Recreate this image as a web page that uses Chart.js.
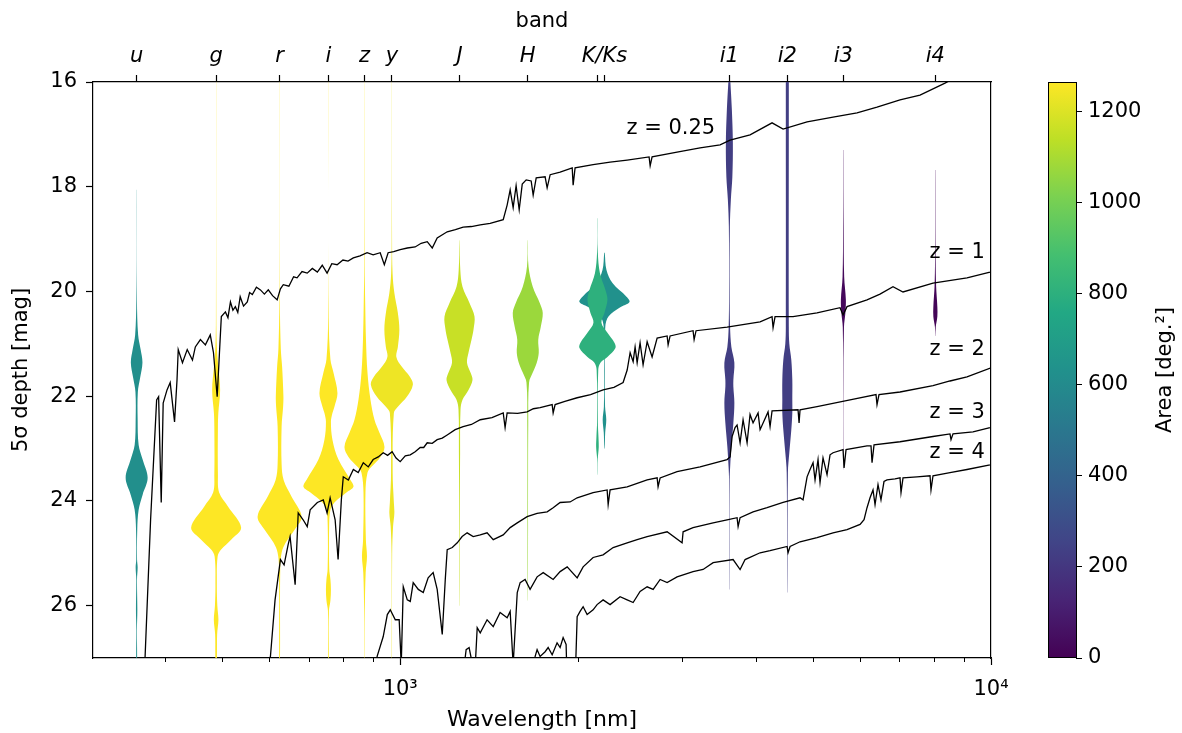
<!DOCTYPE html>
<html>
<head>
<meta charset="utf-8">
<script src="https://cdn.jsdelivr.net/npm/chart.js@4.4.0/dist/chart.umd.min.js"></script>
<style>
  html, body { margin: 0; padding: 0; background: #fff; }
  #wrap { width: 1182px; height: 733px; position: relative; }
</style>
</head>
<body>
<div id="wrap"><canvas id="depth"></canvas></div>
<script>
// ---- bands (top axis), violin colour = survey area ----
const bandNames = ['u', 'g', 'r', 'i', 'z', 'y', 'J', 'H', 'K', 'Ks', 'i1', 'i2', 'i3', 'i4'];
const bandTickLabels = ['u', 'g', 'r', 'i', 'z', 'y', 'J', 'H', '', 'K/Ks', 'i1', 'i2', 'i3', 'i4'];
const bandWave = [358, 488, 625, 756, 870, 968, 1260, 1644, 2157, 2217, 3607, 4521, 5625, 8050];
const bandArea = [620, 1264, 1264, 1264, 1264, 1235, 1159, 1073, 803, 632, 228, 228, 25, 13];

// violin profiles: [depth mag, density width]
const uProfile = [[18.06,0.08],[20.16,0.3],[20.83,1.5],[21.11,4],[21.36,5.8],[21.65,3.5],[21.92,1.2],[22.45,1.0],[22.93,2],[23.21,6],[23.56,11],[23.88,6],[24.17,2],[24.55,0.6],[25.12,0.4],[25.27,1.0],[25.5,0.35],[26.08,0.7],[26.46,0.3],[27.1,0.4]];
const gProfile = [[16,0.08],[20.5,0.2],[21.1,0.8],[21.44,2.2],[21.88,4],[22.32,2.2],[22.58,1.8],[23.5,1.8],[23.84,3],[24.11,12],[24.51,25],[24.74,15],[24.93,5],[25.06,1.5],[25.6,0.7],[26.0,1.2],[26.27,2.3],[26.55,1.0],[27.1,0.6]];
const rProfile = [[16,0.08],[20.2,0.25],[21.1,1.2],[21.44,2.5],[22.01,3.8],[22.2,3.5],[22.58,2],[23.3,2],[23.6,4],[23.92,12],[24.3,22],[24.55,15],[24.8,6],[24.99,2],[25.3,0.6],[27.1,0.35]];
const iProfile = [[16,0.08],[20.5,0.3],[21.3,2],[21.55,5],[21.94,9],[22.2,6],[22.32,4],[22.49,2.5],[22.83,4],[23.21,10],[23.6,22],[23.73,25],[23.84,18],[24.03,6],[24.17,2],[24.5,0.7],[25.3,0.8],[25.5,2],[25.69,2.5],[25.9,2],[26.1,0.5],[27.1,0.3]];
const zProfile = [[16,0.08],[19.5,0.25],[20.29,0.8],[20.92,1.5],[21.55,3],[22.07,6],[22.45,10],[22.7,15],[22.97,20],[23.16,16],[23.35,7],[23.46,3],[23.84,1.0],[24.74,1.4],[25.06,2.5],[25.37,1.2],[26.08,0.35],[27.1,0.12]];
const yProfile = [[16,0.08],[19.0,0.2],[19.65,0.7],[20.03,2.5],[20.41,6],[20.73,7.5],[21.06,6],[21.25,4.5],[21.44,10],[21.63,18],[21.78,21],[22.01,15],[22.2,6],[22.32,2],[23.46,0.8],[24.03,2],[24.23,2.5],[24.49,1.2],[25.0,0.3],[27.1,0.12]];
const JProfile = [[19.02,0.12],[19.59,0.8],[19.91,3],[20.22,10],[20.48,15],[20.73,14],[20.92,12],[21.17,9],[21.36,7.5],[21.55,11],[21.69,13],[21.88,9],[22.07,3],[22.26,1.0],[23.08,0.6],[24.5,0.3],[26.0,0.12]];
const HProfile = [[19.02,0.12],[19.53,0.8],[19.91,5],[20.22,12],[20.41,15],[20.68,13],[20.92,10.5],[21.17,11],[21.36,9],[21.55,5],[21.74,1.3],[22.5,0.5],[24.5,0.3],[25.9,0.12]];
const KProfile = [[18.6,0.12],[19.26,0.4],[19.65,2.5],[19.97,8],[20.16,10],[20.41,7],[20.6,4],[20.79,10],[20.98,17],[21.08,18],[21.25,10],[21.36,3],[21.5,0.8],[22.5,0.4],[22.77,1.0],[22.97,1.3],[23.2,0.3],[23.5,0.1]];
const KsProfile = [[19.26,0.3],[19.59,2],[19.84,8],[20.1,22],[20.2,25],[20.31,15],[20.48,4],[20.68,0.8],[21.5,0.35],[22.2,0.6],[22.45,1.8],[22.7,0.7],[23.0,0.2]];
const i1Profile = [[16,1],[16.53,2.5],[17.16,3.5],[17.81,3],[18.25,1.5],[18.77,0.5],[20.03,0.3],[20.68,0.7],[21.06,2],[21.36,5],[21.69,4],[21.82,4],[22.13,5],[22.51,4],[22.97,2],[23.35,0.8],[23.6,0.3],[25.69,0.12]];
const i2Profile = [[16,1.5],[16.86,1.5],[20.68,1.5],[21.0,2],[21.31,4],[21.69,5],[22.07,5],[22.32,5],[22.64,4],[23.08,2],[23.46,0.6],[25.75,0.12]];
const i3Profile = [[17.3,0.12],[18.77,0.3],[19.72,0.8],[20.16,2.5],[20.41,2],[20.68,0.6],[21.88,0.15],[23.4,0.08]];
const i4Profile = [[17.68,0.12],[19.4,0.3],[19.91,0.8],[20.29,2],[20.48,2],[20.68,0.4],[20.85,0.1]];
const bandProfiles = [uProfile, gProfile, rProfile, iProfile, zProfile, yProfile, JProfile, HProfile, KProfile, KsProfile, i1Profile, i2Profile, i3Profile, i4Profile];

// ---- galaxy spectra: [wavelength nm, mag] ----
const specZ025 = [[363,27.8],[370,26.97],[378,24.36],[387,22.07],[390,22.01],[394,24.03],[397,22.13],[403,21.88],[408,21.74],[415,22.49],[419,21.69],[421,21.11],[428,21.36],[436,21.11],[445,21.31],[450,21.06],[459,20.92],[468,21.02],[477,20.83],[483,21.17],[490,22.01],[498,20.48],[506,20.39],[511,20.5],[516,20.2],[521,20.36],[526,20.29],[531,20.4],[536,20.1],[543,20.28],[551,20.2],[556,20.02],[562,20.06],[571,19.92],[580,19.97],[589,20.05],[598,19.97],[608,20.08],[619,20.16],[627,19.95],[634,19.87],[648,19.9],[660,19.72],[669,19.74],[682,19.62],[696,19.65],[710,19.56],[724,19.63],[738,19.5],[752,19.65],[766,19.47],[782,19.49],[800,19.4],[816,19.42],[833,19.36],[855,19.32],[879,19.26],[900,19.3],[925,19.26],[940,19.49],[954,19.26],[975,19.24],[1000,19.2],[1028,19.17],[1060,19.15],[1085,19.08],[1111,19.05],[1133,19.17],[1155,18.98],[1201,18.86],[1240,18.82],[1278,18.77],[1320,18.76],[1366,18.73],[1420,18.7],[1494,18.63],[1517,18.35],[1535,18.06],[1553,18.4],[1571,17.98],[1590,18.44],[1609,17.95],[1634,17.87],[1666,17.89],[1679,18.16],[1699,17.83],[1759,17.81],[1773,18.02],[1794,17.77],[1865,17.72],[1955,17.64],[1962,17.97],[1977,17.64],[2121,17.58],[2266,17.53],[2422,17.49],[2638,17.43],[2649,17.6],[2669,17.43],[2942,17.34],[3218,17.26],[3479,17.2],[3617,17.11],[3910,17.01],[4260,16.78],[4447,16.9],[4883,16.76],[5403,16.67],[5933,16.59],[6413,16.48],[7015,16.34],[7583,16.25],[8359,16.02],[8691,15.92]];
const specZ1 = [[591,27.8],[603,26.97],[614,25.89],[627,25.12],[636,25.22],[646,24.84],[651,24.68],[664,25.6],[672,24.23],[685,24.36],[696,24.49],[704,24.17],[724,24.03],[741,23.98],[752,24.23],[761,23.94],[776,24.36],[785,25.12],[795,23.98],[801,23.54],[817,23.6],[833,23.4],[849,23.46],[866,23.27],[883,23.35],[900,23.21],[918,23.16],[936,23.08],[952,23.13],[969,23.06],[984,23.18],[1000,23.25],[1020,23.14],[1040,23.12],[1060,23.06],[1081,22.98],[1096,22.98],[1111,22.89],[1133,22.9],[1155,22.83],[1178,22.8],[1201,22.74],[1239,22.64],[1278,22.58],[1320,22.54],[1366,22.45],[1430,22.41],[1494,22.32],[1505,22.6],[1517,22.32],[1580,22.33],[1640,22.3],[1680,22.24],[1725,22.22],[1808,22.16],[1815,22.32],[1829,22.16],[1900,22.1],[1993,22.03],[2100,21.97],[2205,21.88],[2300,21.83],[2384,21.74],[2422,21.5],[2450,21.17],[2479,21.34],[2498,21.06],[2518,21.36],[2547,20.98],[2577,21.4],[2618,20.96],[2669,21.25],[2722,20.89],[2830,20.85],[2841,21.02],[2863,20.85],[3131,20.75],[3144,20.92],[3168,20.75],[3575,20.68],[4066,20.58],[4260,20.48],[4277,20.69],[4310,20.48],[4623,20.48],[5076,20.41],[5552,20.31],[5618,20.45],[5706,20.29],[6168,20.16],[6488,20.05],[6825,19.91],[7097,20.01],[7977,19.84],[9107,19.74],[9961,19.63],[10236,19.59]];
const specZ2 = [[900,27.8],[914,26.97],[936,26.59],[951,26.17],[962,26.08],[981,26.27],[996,26.27],[1004,27.13],[1012,25.64],[1028,25.89],[1040,25.92],[1052,25.56],[1073,25.69],[1094,25.75],[1115,25.47],[1137,25.37],[1155,25.69],[1178,26.55],[1192,25.5],[1201,24.93],[1225,24.89],[1249,24.8],[1273,24.68],[1298,24.61],[1329,24.68],[1366,24.65],[1403,24.61],[1437,24.74],[1494,24.65],[1535,24.51],[1578,24.42],[1640,24.3],[1705,24.24],[1773,24.21],[1815,24.13],[1865,24.03],[1939,24.02],[1993,23.94],[2121,23.84],[2240,23.79],[2249,24.07],[2266,23.79],[2422,23.73],[2618,23.6],[2722,23.56],[2732,23.73],[2754,23.56],[2942,23.44],[3218,23.35],[3575,23.21],[3617,23.16],[3646,22.77],[3688,22.6],[3717,22.55],[3761,22.89],[3805,22.45],[3865,22.89],[3910,22.35],[3956,22.51],[4034,22.32],[4066,22.64],[4194,22.3],[4227,22.58],[4260,22.28],[4714,22.26],[4733,22.51],[4751,22.26],[5076,22.2],[5773,22.07],[6388,21.97],[6413,22.16],[6463,21.97],[7015,21.92],[7977,21.8],[8523,21.71],[9107,21.63],[10000,21.46],[10236,21.42]];
const specZ3 = [[1263,27.8],[1293,26.84],[1308,26.8],[1324,27.1],[1339,27.2],[1350,26.42],[1366,26.52],[1403,26.27],[1437,26.4],[1476,26.13],[1517,26.23],[1535,26.11],[1553,27.13],[1578,25.75],[1596,25.56],[1627,25.5],[1659,25.69],[1705,25.45],[1746,25.37],[1815,25.5],[1865,25.35],[1917,25.26],[1993,25.47],[2040,25.26],[2121,25.08],[2205,25.03],[2293,24.89],[2422,24.8],[2518,24.74],[2618,24.68],[2830,24.59],[3000,24.8],[3012,24.59],[3131,24.51],[3386,24.42],[3575,24.36],[3717,24.32],[3732,24.49],[3761,24.32],[3956,24.21],[4178,24.13],[4447,24.03],[4751,23.94],[4807,23.98],[4883,23.54],[4940,23.4],[4998,23.27],[5037,23.6],[5096,23.21],[5136,23.65],[5196,23.18],[5278,23.5],[5340,23.12],[5403,23.08],[5618,23.02],[5640,23.37],[5684,23.02],[6168,22.95],[6265,22.95],[6290,23.27],[6339,22.93],[7015,22.87],[7977,22.77],[8523,22.72],[8557,22.83],[8624,22.72],[9322,22.68],[9961,22.6],[10236,22.56]];
const specZ4 = [[1659,27.8],[1692,26.97],[1705,26.84],[1725,26.97],[1759,26.88],[1780,26.8],[1808,26.94],[1843,26.71],[1865,26.8],[1887,26.61],[1909,26.74],[1917,27.5],[1977,27.5],[1993,26.21],[2016,26.11],[2040,26.02],[2072,26.17],[2121,26.08],[2154,25.98],[2205,25.89],[2266,25.98],[2356,25.83],[2422,25.89],[2479,25.94],[2547,25.73],[2618,25.64],[2680,25.69],[2754,25.5],[2830,25.56],[2942,25.45],[3131,25.35],[3256,25.31],[3386,25.18],[3660,25.12],[3761,25.31],[3835,25.12],[4066,24.99],[4227,24.95],[4517,24.87],[4534,24.99],[4570,24.87],[4751,24.78],[5076,24.7],[5403,24.61],[5706,24.55],[6003,24.45],[6097,24.36],[6168,24.13],[6241,23.94],[6314,23.79],[6364,24.07],[6438,23.69],[6513,23.98],[6590,23.63],[6667,23.6],[6879,23.58],[7015,23.56],[7042,23.84],[7097,23.56],[7495,23.54],[7885,23.52],[7915,23.79],[7977,23.52],[8523,23.46],[9107,23.4],[9961,23.31],[10236,23.27]];
const spectra = [specZ025, specZ1, specZ2, specZ3, specZ4];
const specNames = ['z = 0.25', 'z = 1', 'z = 2', 'z = 3', 'z = 4'];
const specLabelAt = [[3413, 16.88], [9767, 19.26], [9767, 21.11], [9767, 22.32], [9767, 23.08]];

// ---- axes ----
const waveMin = 302, waveMax = 10000;
const waveMajor = [1000, 10000];
const waveMinor = [400, 500, 600, 700, 800, 900, 2000, 3000, 4000, 5000, 6000, 7000, 8000, 9000];
const depthMin = 16, depthMax = 27;
const depthTicks = [16, 18, 20, 22, 24, 26];
const areaMax = 1264;
const areaTicks = [0, 200, 400, 600, 800, 1000, 1200];

const viridisStops = ['#440154', '#482475', '#414487', '#355f8d', '#2a788e', '#21918c',
                      '#22a884', '#44bf70', '#7ad151', '#bddf26', '#fde725'];
function viridis(t) {
  t = Math.max(0, Math.min(1, t));
  const p = t * 10, i = Math.min(9, Math.floor(p)), f = p - i;
  const a = viridisStops[i], b = viridisStops[i + 1];
  const ch = k => Math.round(parseInt(a.substr(k, 2), 16) * (1 - f) + parseInt(b.substr(k, 2), 16) * f);
  return 'rgb(' + ch(1) + ',' + ch(3) + ',' + ch(5) + ')';
}

const VIOLIN_DEX = 1 / 591; // one width unit in decades of wavelength
function violinOutline(wave, profile) {
  const right = profile.map(p => ({ x: wave * Math.pow(10, p[1] * VIOLIN_DEX), y: p[0] }));
  const left = profile.slice().reverse().map(p => ({ x: wave * Math.pow(10, -p[1] * VIOLIN_DEX), y: p[0] }));
  return right.concat(left);
}

const datasets = [];
spectra.forEach((s, i) => {
  datasets.push({
    label: specNames[i],
    data: s.map(p => ({ x: p[0], y: p[1] })),
    borderColor: '#000', borderWidth: 1.3,
    pointRadius: 0, fill: false, tension: 0, order: 0
  });
});
bandWave.forEach((w, i) => {
  datasets.push({
    label: bandNames[i],
    data: violinOutline(w, bandProfiles[i]),
    backgroundColor: viridis(bandArea[i] / areaMax),
    borderWidth: 0, pointRadius: 0, fill: 'shape', tension: 0.35,
    order: bandNames[i] === 'K' ? 1 : 2
  });
});

const FONT = "'DejaVu Sans', sans-serif";
Chart.defaults.font.family = FONT;
Chart.defaults.font.size = 21;
Chart.defaults.color = '#000';

const minorTicks = {
  id: 'minorTicks',
  afterDraw(chart) {
    const sx = chart.scales.x, ctx = chart.ctx, y0 = chart.chartArea.bottom;
    ctx.save();
    ctx.strokeStyle = '#000';
    ctx.lineWidth = 1;
    waveMinor.forEach(v => {
      const px = Math.round(sx.getPixelForValue(v)) + 0.5;
      ctx.beginPath(); ctx.moveTo(px, y0); ctx.lineTo(px, y0 + 4); ctx.stroke();
    });
    ctx.restore();
  }
};

const specLabels = {
  id: 'specLabels',
  afterDatasetsDraw(chart) {
    const sx = chart.scales.x, sy = chart.scales.y, ctx = chart.ctx;
    ctx.save();
    ctx.font = '21px ' + FONT;
    ctx.fillStyle = '#000';
    ctx.textAlign = 'right';
    ctx.textBaseline = 'middle';
    specNames.forEach((t, i) => {
      ctx.fillText(t, sx.getPixelForValue(specLabelAt[i][0]), sy.getPixelForValue(specLabelAt[i][1]));
    });
    ctx.restore();
  }
};

const colorBar = {
  id: 'colorBar',
  afterDraw(chart) {
    const cb = chart.scales.cb, ctx = chart.ctx;
    const w = 28, x0 = cb.left - w;
    const yTop = cb.getPixelForValue(areaMax), yBot = cb.getPixelForValue(0);
    const g = ctx.createLinearGradient(0, yBot, 0, yTop);
    viridisStops.forEach((c, i) => g.addColorStop(i / 10, c));
    ctx.save();
    ctx.fillStyle = g;
    ctx.fillRect(x0, yTop, w, yBot - yTop);
    ctx.strokeStyle = '#000';
    ctx.lineWidth = 1;
    ctx.strokeRect(x0 + 0.5, yTop + 0.5, w, yBot - yTop - 1);
    ctx.translate(cb.left + 90, (yTop + yBot) / 2);
    ctx.rotate(-Math.PI / 2);
    ctx.font = '21px ' + FONT;
    ctx.fillStyle = '#000';
    ctx.textAlign = 'center';
    ctx.textBaseline = 'middle';
    ctx.fillText('Area [deg.\u00b2]', 0, 0);
    ctx.restore();
  }
};

const tickGrid = { drawOnChartArea: false, color: '#000', tickLength: 7, tickWidth: 1.2 };
const axisBorder = { display: true, color: '#000', width: 1.2 };

new Chart(document.getElementById('depth'), {
  type: 'line',
  data: { datasets: datasets },
  options: {
    responsive: true,
    maintainAspectRatio: false,
    animation: false,
    devicePixelRatio: 1,
    events: [],
    layout: { padding: 0 },
    plugins: { legend: { display: false }, tooltip: { enabled: false } },
    scales: {
      x: {
        type: 'logarithmic', position: 'bottom', min: waveMin, max: waveMax,
        afterBuildTicks: a => { a.ticks = waveMajor.map(v => ({ value: v })); },
        afterFit: s => { s.height = 75; },
        ticks: { autoSkip: false, maxRotation: 0, padding: 12,
                 callback: v => v === 1000 ? '10\u00b3' : (v === 10000 ? '10\u2074' : '') },
        grid: tickGrid, border: axisBorder,
        title: { display: true, text: 'Wavelength [nm]', font: { size: 22 }, padding: { top: 0, bottom: 0 } }
      },
      xTop: {
        type: 'logarithmic', position: 'top', min: waveMin, max: waveMax,
        afterBuildTicks: a => { a.ticks = bandWave.map(v => ({ value: v })); },
        afterFit: s => { s.height = 82; },
        ticks: { autoSkip: false, maxRotation: 0, padding: 6, font: { style: 'italic' },
                 callback: (v, i) => bandTickLabels[i] },
        grid: tickGrid, border: axisBorder,
        title: { display: true, text: 'band', padding: { top: 9, bottom: 0 } }
      },
      y: {
        type: 'linear', position: 'left', reverse: true, min: depthMin, max: depthMax,
        afterBuildTicks: a => { a.ticks = depthTicks.map(v => ({ value: v })); },
        afterFit: s => { s.width = 93; },
        ticks: { padding: 9 },
        grid: tickGrid, border: axisBorder,
        title: { display: true, text: '5\u03c3 depth [mag]', padding: { top: 9, bottom: 0 } }
      },
      yR: {
        type: 'linear', position: 'right', min: depthMin, max: depthMax, weight: 0,
        afterFit: s => { s.width = 85; },
        ticks: { display: false },
        grid: { display: false }, border: axisBorder
      },
      cb: {
        type: 'linear', position: 'right', min: 0, max: areaMax, weight: 1,
        afterBuildTicks: a => { a.ticks = areaTicks.map(v => ({ value: v })); },
        afterFit: s => { s.width = 106; },
        ticks: { padding: 6, callback: v => String(v) },
        grid: { drawOnChartArea: false, color: '#000', tickLength: 6, tickWidth: 1 },
        border: { display: true, color: '#000', width: 1 }
      }
    }
  },
  plugins: [minorTicks, specLabels, colorBar]
});
</script>
</body>
</html>
